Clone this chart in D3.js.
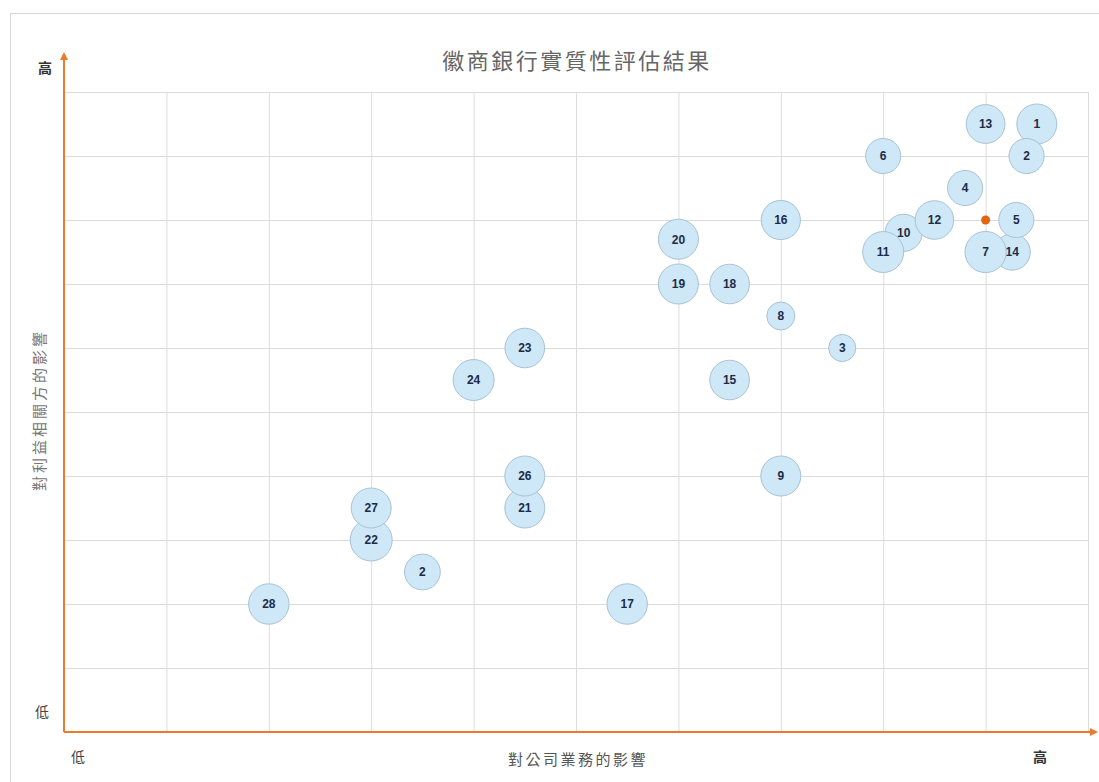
<!DOCTYPE html>
<html>
<head>
<meta charset="utf-8">
<script src="https://d3js.org/d3.v7.min.js"></script>
<style>
body { margin: 0; background: #fff; }
.grid line { stroke: #dcdcdc; stroke-width: 1; }
.grid path { display: none; }
.bubble { fill: #cfe8f7; stroke: #a8c2d4; stroke-width: 1; }
.blabel { font-family: "Liberation Sans", Arial, sans-serif; font-size: 12px; font-weight: bold; fill: #1d2b48; }
.cjk { font-family: "Noto Sans CJK TC", "Noto Sans CJK SC", sans-serif; }
</style>
</head>
<body>
<div id="chart"></div>
<script>
// bubble labels, positions (0-10 scale) and weights, in drawing order
var labels = ["1","2","3","4","6","8","9","10","11","12","13","14","7","5",
              "15","16","17","18","19","20","21","22","23","24","2","26","27","28"];
var impactBusiness = [9.5, 9.4, 7.6, 8.8, 8.0, 7.0, 7.0, 8.2, 8.0, 8.5, 9.0, 9.26, 9.0, 9.3,
                      6.5, 7.0, 5.5, 6.5, 6.0, 6.0, 4.5, 3.0, 4.5, 4.0, 3.5, 4.5, 3.0, 2.0];
var impactStakeholder = [9.5, 9.0, 6.0, 8.5, 9.0, 6.5, 4.0, 7.8, 7.5, 8.0, 9.5, 7.5, 7.5, 8.0,
                         5.5, 8.0, 2.0, 7.0, 7.0, 7.7, 3.5, 3.0, 6.0, 5.5, 2.5, 4.0, 3.5, 2.0];
var weights = [100, 77, 46, 77, 77, 49, 100, 86, 105, 93, 94, 82, 106, 77,
               98, 96, 102, 98, 100, 100, 100, 110, 98, 105, 80, 100, 100, 102];
var marker = [9.0, 8.0];

var title = "徽商銀行實質性評估結果";
var xTitle = "對公司業務的影響";
var yTitle = "對利益相關方的影響";
var lowLabel = "低", highLabel = "高";

var W = 1099, H = 782;
var pLeft = 64, pRight = 1088, pTop = 92, pBottom = 732;

var svg = d3.select("#chart")
  .append("svg")
  .attr("width", W)
  .attr("height", H);

// outer frame
svg.append("rect")
  .attr("x", 10.5).attr("y", 13.5)
  .attr("width", W).attr("height", H)
  .attr("fill", "none")
  .attr("stroke", "#d6d6d6");

var x = d3.scaleLinear().domain([0, 10]).range([pLeft, pRight]);
var y = d3.scaleLinear().domain([0, 10]).range([pBottom, pTop]);
var r = d3.scaleSqrt().domain([0, 100]).range([0, 20]);

// grid
svg.append("g")
  .attr("class", "grid")
  .attr("transform", "translate(0," + pBottom + ")")
  .call(d3.axisBottom(x).tickValues(d3.range(1, 11)).tickSize(-(pBottom - pTop)).tickFormat(""));

svg.append("g")
  .attr("class", "grid")
  .attr("transform", "translate(" + pLeft + ",0)")
  .call(d3.axisLeft(y).tickValues(d3.range(1, 11)).tickSize(-(pRight - pLeft)).tickFormat(""));

// orange axes with arrows
var orange = "#ec7a2c";
svg.append("defs").append("marker")
  .attr("id", "arrow")
  .attr("viewBox", "0 0 10 10")
  .attr("refX", 5).attr("refY", 5)
  .attr("markerWidth", 4).attr("markerHeight", 4)
  .attr("orient", "auto")
  .append("path")
  .attr("d", "M0,0 L10,5 L0,10 Z")
  .attr("fill", orange);

svg.append("line")
  .attr("x1", pLeft).attr("y1", pBottom)
  .attr("x2", pLeft).attr("y2", 56)
  .attr("stroke", orange).attr("stroke-width", 2)
  .attr("marker-end", "url(#arrow)");

svg.append("line")
  .attr("x1", pLeft).attr("y1", pBottom)
  .attr("x2", 1094).attr("y2", pBottom)
  .attr("stroke", orange).attr("stroke-width", 2)
  .attr("marker-end", "url(#arrow)");

// bubbles
var data = labels.map(function(d, i) {
  return {label: d, x: impactBusiness[i], y: impactStakeholder[i], w: weights[i]};
});

var g = svg.selectAll("g.node")
  .data(data)
  .enter()
  .append("g")
  .attr("class", "node")
  .attr("transform", function(d) { return "translate(" + x(d.x) + "," + y(d.y) + ")"; });

g.append("circle")
  .attr("class", "bubble")
  .attr("r", function(d) { return r(d.w); });

g.append("text")
  .attr("class", "blabel")
  .attr("text-anchor", "middle")
  .attr("dy", "0.36em")
  .text(function(d) { return d.label; });

svg.append("circle")
  .attr("cx", x(marker[0]))
  .attr("cy", y(marker[1]))
  .attr("r", 4.5)
  .attr("fill", "#e2660e");

// texts
svg.append("text")
  .attr("class", "cjk")
  .attr("x", 577).attr("y", 69)
  .attr("text-anchor", "middle")
  .attr("font-size", 22)
  .attr("letter-spacing", 2.5)
  .attr("fill", "#666")
  .text(title);

svg.append("text")
  .attr("class", "cjk")
  .attr("x", 578).attr("y", 765)
  .attr("text-anchor", "middle")
  .attr("font-size", 15)
  .attr("letter-spacing", 2.5)
  .attr("fill", "#555")
  .text(xTitle);

svg.append("text")
  .attr("class", "cjk")
  .attr("transform", "translate(45,410) rotate(-90)")
  .attr("text-anchor", "middle")
  .attr("font-size", 15)
  .attr("letter-spacing", 3)
  .attr("fill", "#777")
  .text(yTitle);

svg.append("text").attr("class", "cjk")
  .attr("x", 45).attr("y", 73).attr("text-anchor", "middle")
  .attr("font-size", 14).attr("font-weight", "bold").attr("fill", "#333")
  .text(highLabel);
svg.append("text").attr("class", "cjk")
  .attr("x", 42).attr("y", 717).attr("text-anchor", "middle")
  .attr("font-size", 14).attr("fill", "#444")
  .text(lowLabel);
svg.append("text").attr("class", "cjk")
  .attr("x", 78).attr("y", 762).attr("text-anchor", "middle")
  .attr("font-size", 14).attr("fill", "#444")
  .text(lowLabel);
svg.append("text").attr("class", "cjk")
  .attr("x", 1040).attr("y", 762).attr("text-anchor", "middle")
  .attr("font-size", 14).attr("font-weight", "bold").attr("fill", "#333")
  .text(highLabel);
</script>
</body>
</html>
